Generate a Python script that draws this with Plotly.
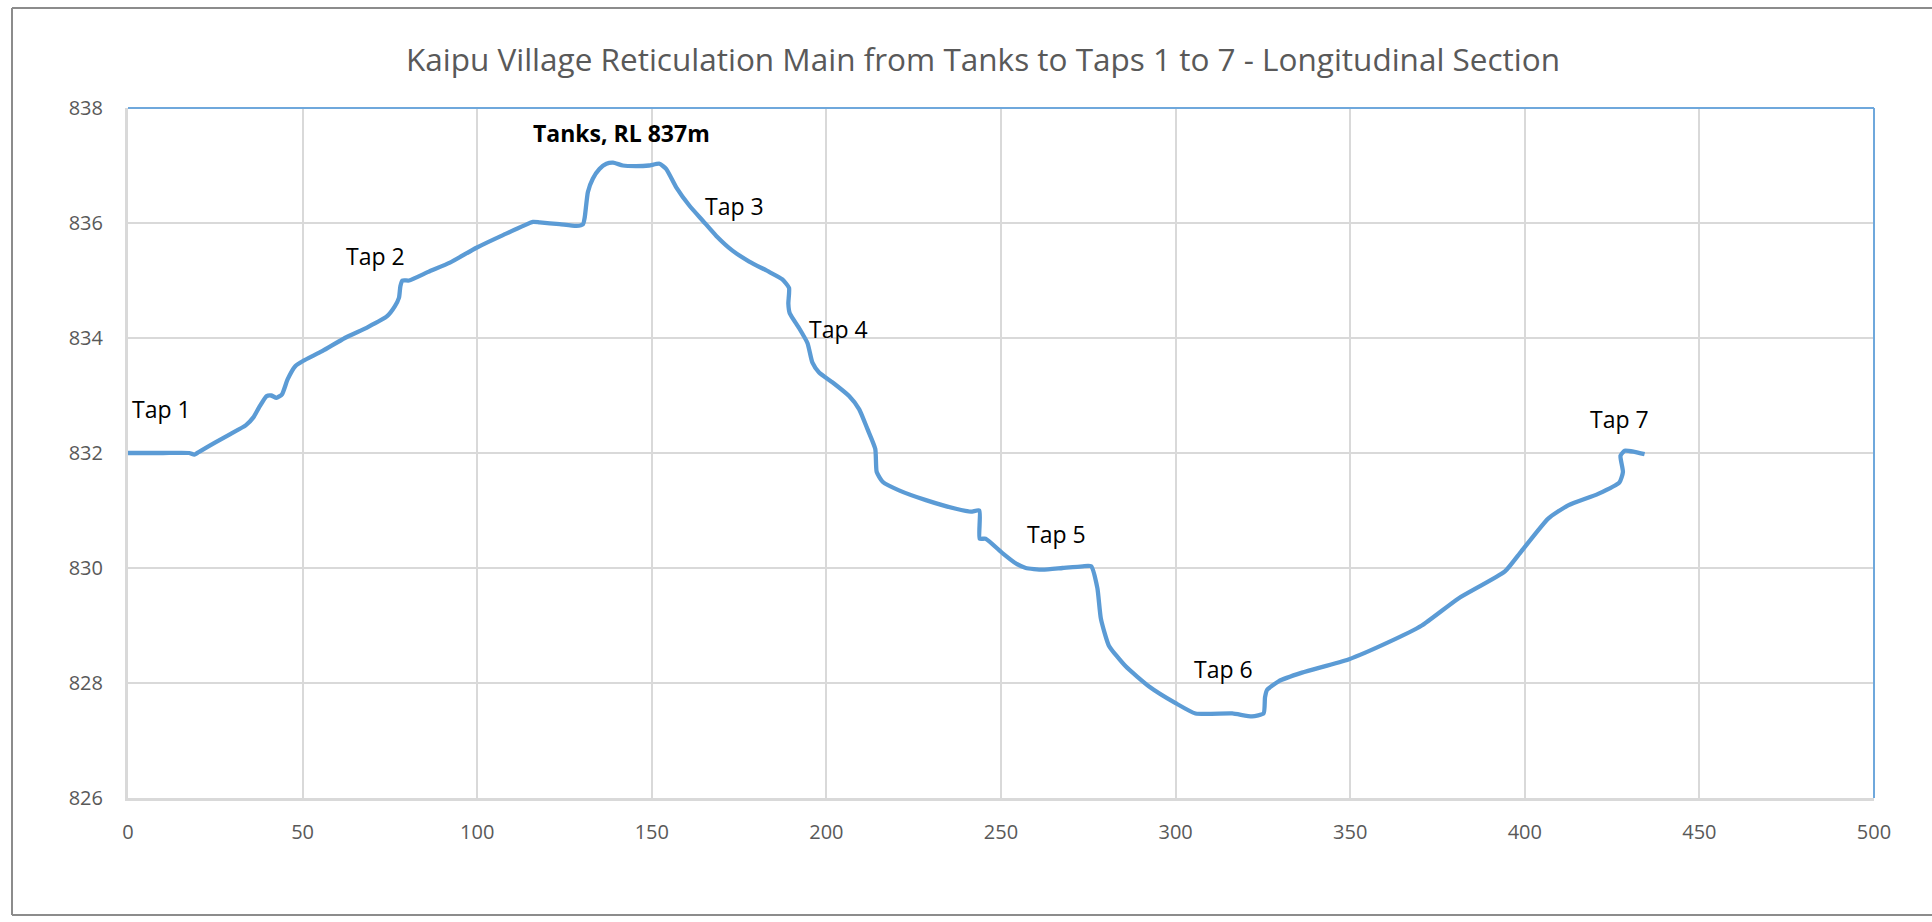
import plotly.graph_objects as go

# ---- data ----
chainage_m = [0, 10, 17.5, 19, 20.6, 24.9, 29.3, 33.7, 35.9, 37.5, 39.7, 41, 42.5, 44.1, 45.7,
              47.9, 50.1, 55.6, 62.1, 68.7, 74.2, 76.4, 77.6, 78.0, 78.6, 80.5, 86, 92.2, 99.8,
              107.4, 116, 117.9, 123.6, 128.4, 130.3, 130.8, 131.7, 133.1, 135, 137, 138.9, 141.7,
              145.5, 149.2, 152.2, 154.1, 157, 160.8, 164.6, 168.4, 173.1, 177.9, 183.6, 187.4,
              189.3, 189.1, 189.5, 192.2, 194.6, 196.0, 197.9, 201.7, 206.5, 209.4, 211.8, 214.0,
              214.4, 216.1, 220.8, 228.5, 237.1, 241.4, 243.8, 243.9, 245.6, 250.4, 254.5, 257.1,
              261.9, 267.6, 273.4, 275.8, 277.6, 278.6, 280.9, 285.7, 292.4, 300, 305.7, 316.2,
              321.9, 325.2, 325.6, 326.2, 329.5, 336.2, 349.5, 361, 370.5, 381, 394.3, 399, 406.7,
              412.4, 421, 427.1, 428.1, 427.4, 428.6, 431.4, 434.3]
elevation_rl = [832.0, 832.0, 832.0, 831.97, 832.03, 832.18, 832.33, 832.48, 832.62, 832.79, 832.99,
                833.0, 832.96, 833.02, 833.28, 833.51, 833.6, 833.77, 834.0, 834.19, 834.38, 834.55,
                834.7, 834.9, 835.0, 835.0, 835.15, 835.31, 835.57, 835.79, 836.02, 836.01, 835.98,
                835.95, 835.98, 836.1, 836.54, 836.77, 836.94, 837.03, 837.05, 837.0, 836.99, 837.0,
                837.03, 836.94, 836.62, 836.3, 836.04, 835.78, 835.52, 835.33, 835.15, 835.02,
                834.87, 834.6, 834.43, 834.17, 833.91, 833.57, 833.4, 833.23, 832.99, 832.76, 832.41,
                832.07, 831.67, 831.5, 831.35, 831.18, 831.03, 830.98, 831.0, 830.51, 830.51, 830.26,
                830.07, 830.0, 829.97, 830.0, 830.03, 830.03, 829.65, 829.12, 828.65, 828.29, 827.94,
                827.65, 827.47, 827.47, 827.42, 827.47, 827.75, 827.88, 828.03, 828.18, 828.41,
                828.71, 829.0, 829.47, 829.94, 830.29, 830.86, 831.09, 831.29, 831.49, 831.67,
                831.95, 832.04, 832.02, 831.98]

label_text = ["Tap 1", "Tap 2", "Tanks, RL 837m", "Tap 3", "Tap 4", "Tap 5", "Tap 6", "Tap 7"]
label_x = [9.6, 70.9, 141.2, 173.7, 203.5, 266, 313.8, 427.1]
label_y = [832.77, 835.43, 837.56, 836.30, 834.16, 830.6, 828.25, 832.6]

x_ticks = [0, 50, 100, 150, 200, 250, 300, 350, 400, 450, 500]
y_ticks = [826, 828, 830, 832, 834, 836, 838]

TITLE = "Kaipu Village Reticulation Main from Tanks to Taps 1 to 7 - Longitudinal Section"
FONT = "Open Sans"

fig = go.Figure()
fig.add_trace(go.Scatter(x=chainage_m, y=elevation_rl, mode="lines",
                         line=dict(color="#5B9BD5", width=4.3, shape="spline", smoothing=0.5),
                         hoverinfo="x+y", showlegend=False))

for t, xv, yv in zip(label_text, label_x, label_y):
    bold = t.startswith("Tanks")
    fig.add_annotation(x=xv, y=yv, text=f"<b>{t}</b>" if bold else t, showarrow=False,
                       xanchor="center", yanchor="middle",
                       font=dict(family=FONT, size=23, color="#000000"))

W, H = 1932, 922
L, R, T, B = 128, 58, 108, 124
pw, ph = W - L - R, H - T - B

def px(xp):
    return (xp - L) / pw

def py(yp):
    return (H - B - yp) / ph

shapes = [
    dict(type="line", xref="paper", yref="paper", x0=0, x1=1, y0=1, y1=1,
         line=dict(color="#6FA8DC", width=2), layer="above"),
    dict(type="line", xref="paper", yref="paper", x0=1, x1=1, y0=0, y1=1,
         line=dict(color="#6FA8DC", width=2), layer="above"),
    dict(type="line", xref="paper", yref="paper", x0=px(12), x1=px(12), y0=py(915), y1=py(8),
         line=dict(color="#8C8C8C", width=2)),
    dict(type="line", xref="paper", yref="paper", x0=px(12), x1=px(1940), y0=py(8), y1=py(8),
         line=dict(color="#8C8C8C", width=2)),
    dict(type="line", xref="paper", yref="paper", x0=px(12), x1=px(1940), y0=py(915), y1=py(915),
         line=dict(color="#8C8C8C", width=2)),
]

fig.update_layout(
    width=W, height=H,
    margin=dict(l=L, r=R, t=T, b=B),
    paper_bgcolor="white", plot_bgcolor="white",
    title=dict(text=TITLE, x=px(983), xref="paper", xanchor="center",
               y=1 - 60 / H, yref="container", yanchor="middle",
               font=dict(family=FONT, size=31.5, color="#595959")),
    shapes=shapes,
    font=dict(family=FONT),
)
fig.update_xaxes(range=[0, 500], tickvals=x_ticks, showgrid=True, gridcolor="#D9D9D9",
                 gridwidth=2, zeroline=False, showline=True, linecolor="#D9D9D9", linewidth=3,
                 ticks="", ticklabelstandoff=14,
                 tickfont=dict(family=FONT, size=20, color="#595959"))
fig.update_yaxes(range=[826, 838], tickvals=y_ticks, showgrid=True, gridcolor="#D9D9D9",
                 gridwidth=2, zeroline=False, showline=True, linecolor="#D9D9D9", linewidth=3,
                 ticks="", ticklabelstandoff=18,
                 tickfont=dict(family=FONT, size=20, color="#595959"))

fig.write_html("out.html", config={"displayModeBar": False},
               post_script="document.body.style.margin='0';document.body.style.overflow='hidden';")
